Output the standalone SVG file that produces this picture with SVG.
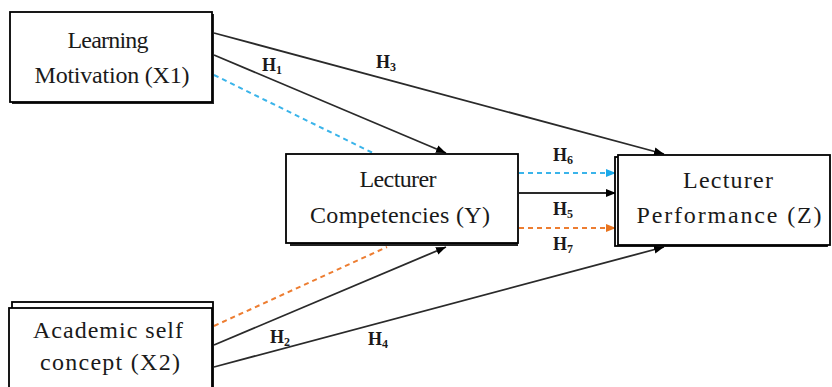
<svg xmlns="http://www.w3.org/2000/svg" width="832" height="387" viewBox="0 0 832 387">
<style>
.box{fill:#fff;stroke:#000;stroke-width:1.8}
.shadow{fill:#222;stroke:none}
.t{font-family:"Liberation Serif","Times New Roman",serif;font-size:24px;fill:#1a1a1a;text-anchor:middle}
.h{font-family:"Liberation Serif","Times New Roman",serif;font-size:18px;font-weight:bold;fill:#1a1a1a}
.s{font-size:12px}
.ln{fill:none;stroke:#2a2a2a;stroke-width:1.8}
.cy{fill:none;stroke:#3ab4ea;stroke-width:2;stroke-dasharray:5 4}
.or{fill:none;stroke:#ed7d31;stroke-width:2;stroke-dasharray:5 4}
</style>
<defs>
<marker id="ab" markerUnits="userSpaceOnUse" markerWidth="10" markerHeight="10" viewBox="0 0 10 10" refX="10" refY="5" orient="auto"><path d="M0,1 L10,5 L0,9 Z" fill="#000"/></marker>
<marker id="ac" markerUnits="userSpaceOnUse" markerWidth="10" markerHeight="10" viewBox="0 0 10 10" refX="10" refY="5" orient="auto"><path d="M0,1 L10,5 L0,9 Z" fill="#1aa9ea"/></marker>
<marker id="ao" markerUnits="userSpaceOnUse" markerWidth="10" markerHeight="10" viewBox="0 0 10 10" refX="10" refY="5" orient="auto"><path d="M0,1 L10,5 L0,9 Z" fill="#e8741f"/></marker>
</defs>
<g id="connectors">
<line class="ln" x1="214" y1="33" x2="664" y2="154" marker-end="url(#ab)"/>
<line class="ln" x1="214" y1="55" x2="446" y2="153" marker-end="url(#ab)"/>
<line class="cy" x1="214" y1="75" x2="373" y2="153"/>
<line class="cy" x1="519" y1="173" x2="616" y2="173" marker-end="url(#ac)"/>
<line class="ln" x1="519" y1="193" x2="616" y2="193" marker-end="url(#ab)"/>
<line class="or" x1="519" y1="228" x2="616" y2="228" marker-end="url(#ao)"/>
<line class="or" x1="214" y1="326" x2="387" y2="247"/>
<line class="ln" x1="214" y1="345" x2="446" y2="247" marker-end="url(#ab)"/>
<line class="ln" x1="214" y1="367" x2="664" y2="247" marker-end="url(#ab)"/>
<text class="h" x="262" y="71">H<tspan class="s" dy="3">1</tspan></text>
<text class="h" x="376" y="68">H<tspan class="s" dy="3">3</tspan></text>
<text class="h" x="553" y="161">H<tspan class="s" dy="3">6</tspan></text>
<text class="h" x="553" y="215">H<tspan class="s" dy="3">5</tspan></text>
<text class="h" x="553" y="250">H<tspan class="s" dy="3">7</tspan></text>
<text class="h" x="270" y="343">H<tspan class="s" dy="3">2</tspan></text>
<text class="h" x="368" y="345">H<tspan class="s" dy="3">4</tspan></text>
</g>
<g id="x1">
<rect class="shadow" x="12" y="14" width="202" height="90"/>
<rect class="box" x="10" y="12" width="202" height="90"/>
<text class="t" x="108" y="48" textLength="81">Learning</text>
<text class="t" x="112" y="83" textLength="155">Motivation (X1)</text>
</g>
<g id="y">
<rect class="shadow" x="290" y="157" width="228" height="89"/>
<rect class="box" x="286" y="154" width="232" height="89"/>
<text class="t" x="398" y="187" textLength="77">Lecturer</text>
<text class="t" x="400" y="223" textLength="180">Competencies (Y)</text>
</g>
<g id="z">
<rect class="box" x="615" y="157" width="212" height="89"/>
<rect class="box" x="618" y="155" width="212" height="90"/>
<text class="t" x="728" y="188" textLength="90">Lecturer</text>
<text class="t" x="729" y="223" textLength="185">Performance (Z)</text>
</g>
<g id="x2">
<rect class="box" x="12" y="302" width="201" height="90"/>
<rect class="box" x="9" y="308" width="203" height="90"/>
<text class="t" x="108" y="338" textLength="150">Academic self</text>
<text class="t" x="110" y="370" textLength="140">concept (X2)</text>
</g>
</svg>
